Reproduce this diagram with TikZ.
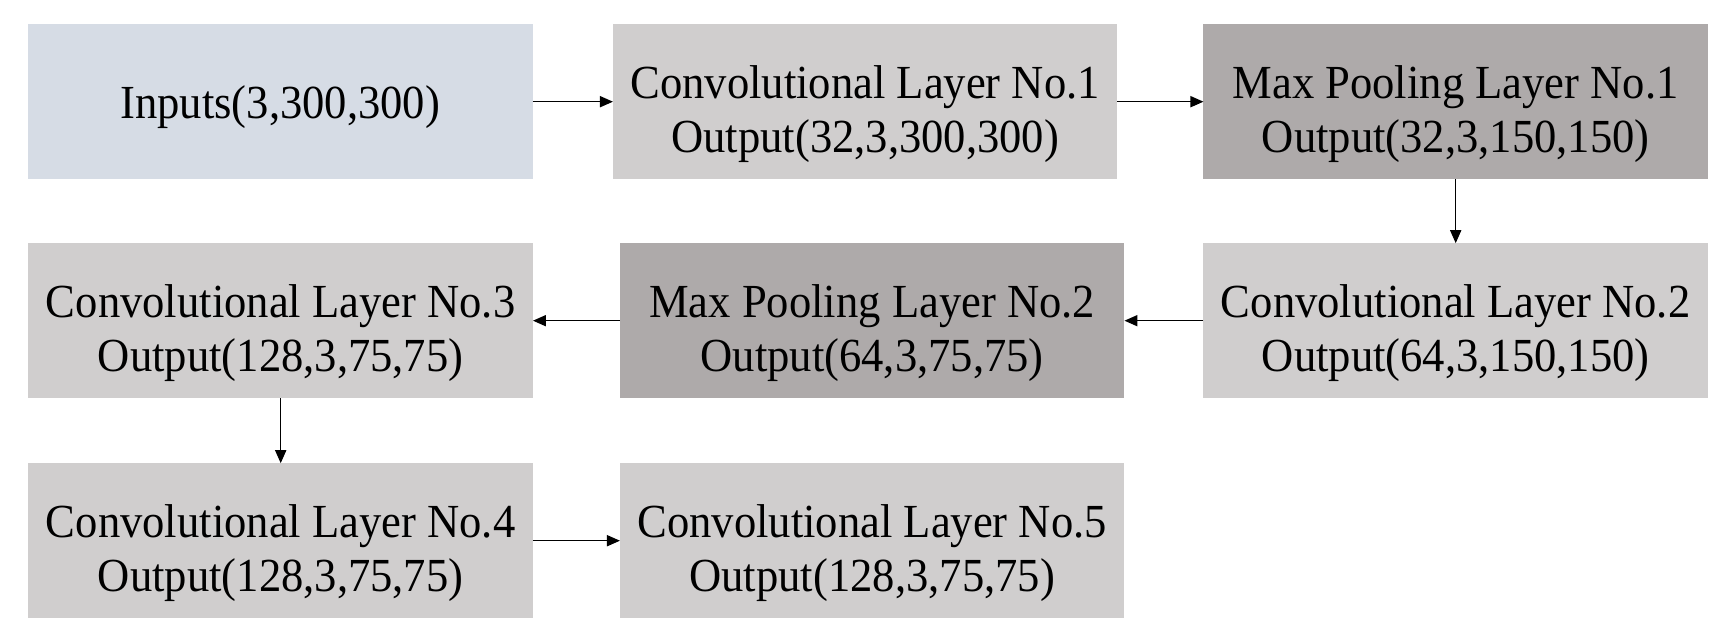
\documentclass[tikz,border=0pt]{standalone}
\usepackage{fontspec}
\setmainfont{Liberation Serif}[FakeStretch=0.94]
\usetikzlibrary{arrows.meta,positioning}

\definecolor{inputfill}{HTML}{D6DCE5}
\definecolor{convfill}{HTML}{D0CECE}
\definecolor{poolfill}{HTML}{AEAAAA}

\begin{document}
\begin{tikzpicture}[>={Triangle[length=7.4pt,width=6.3pt]}, font=\fontsize{27}{30.9}\selectfont,
  layer/.style={minimum width=10.09cm, minimum height=3.1cm, inner sep=0pt, outer sep=0pt, align=center,
    text height=2.2cm, text depth=0.17cm},
  inbox/.style={layer, fill=inputfill, text height=1cm, text depth=0.34cm},
  convbox/.style={layer, fill=convfill},
  poolbox/.style={layer, fill=poolfill},
  flow/.style={->, line width=0.85pt}]
  \useasboundingbox (-5.606,-10.766) rectangle (28.974,2.034);

  % first row (left to right)
  \node[inbox] (in) {Inputs(3,300,300)};
  \node[convbox, right=1.608cm of in] (c1) {Convolutional Layer No.1\\Output(32,3,300,300)};
  \node[poolbox, right=1.72cm of c1] (p1) {Max Pooling Layer No.1\\Output(32,3,150,150)};

  % second row (right to left)
  \node[convbox, below=1.28cm of p1] (c2) {Convolutional Layer No.2\\Output(64,3,150,150)};
  \node[poolbox, left=1.58cm of c2] (p2) {Max Pooling Layer No.2\\Output(64,3,75,75)};
  \node[convbox, left=1.74cm of p2] (c3) {Convolutional Layer No.3\\Output(128,3,75,75)};

  % third row
  \node[convbox, below=1.3cm of c3] (c4) {Convolutional Layer No.4\\Output(128,3,75,75)};
  \node[convbox, right=1.74cm of c4] (c5) {Convolutional Layer No.5\\Output(128,3,75,75)};

  % connections
  \draw[flow] (in) -- (c1);
  \draw[flow] (c1) -- (p1);
  \draw[flow] (p1) -- (c2);
  \draw[flow] (c2) -- (p2);
  \draw[flow] (p2) -- (c3);
  \draw[flow] (c3) -- (c4);
  \draw[flow] (c4) -- (c5);
\end{tikzpicture}
\end{document}
